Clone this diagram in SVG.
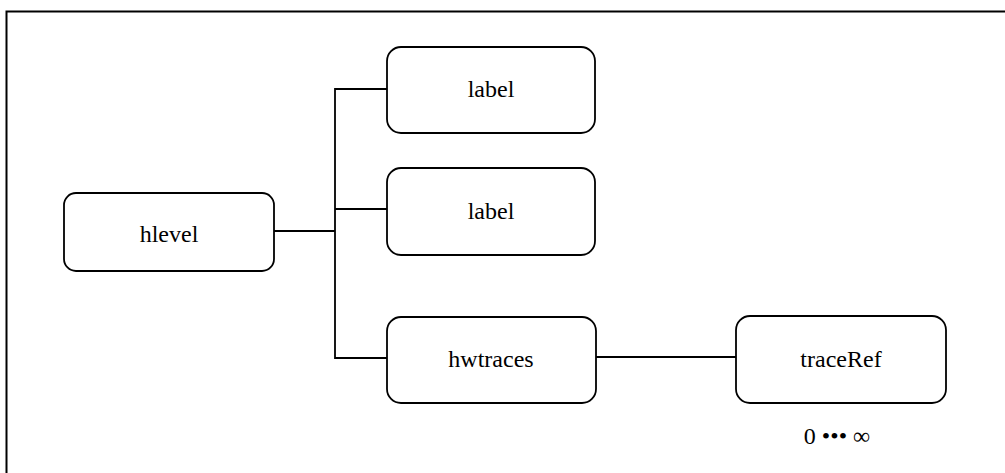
<svg xmlns="http://www.w3.org/2000/svg" width="1005" height="473" viewBox="0 0 1005 473">
<style>
.box{fill:#fff;stroke:#000;stroke-width:1.8}
.t{font-family:"Liberation Serif","Times New Roman",serif;font-size:24px;fill:#000;text-anchor:middle}
.c{fill:none;stroke:#000;stroke-width:1.8}
</style>
<rect width="1005" height="473" fill="#fff"/>
<path d="M6.5,1010 V11.5 H1010" fill="none" stroke="#000" stroke-width="2"/>
<g id="connectors">
<path class="c" d="M274,231 H335"/>
<path class="c" d="M387,89 H335 V358 H387"/>
<path class="c" d="M335,209 H387"/>
<path class="c" d="M596,357 H736"/>
</g>
<g id="hlevel">
<rect class="box" x="64" y="193" width="210" height="78" rx="12"/>
<text class="t" x="169" y="242">hlevel</text>
</g>
<g id="label1">
<rect class="box" x="387" y="47" width="208" height="86" rx="14"/>
<text class="t" x="491" y="97">label</text>
</g>
<g id="label2">
<rect class="box" x="387" y="168" width="208" height="87" rx="14"/>
<text class="t" x="491" y="219">label</text>
</g>
<g id="hwtraces">
<rect class="box" x="387" y="317" width="209" height="86" rx="14"/>
<text class="t" x="491" y="367">hwtraces</text>
</g>
<g id="traceRef">
<rect class="box" x="736" y="316" width="210" height="87" rx="14"/>
<text class="t" x="841" y="367">traceRef</text>
<text class="t" x="837" y="444">0 ••• ∞</text>
</g>
</svg>
